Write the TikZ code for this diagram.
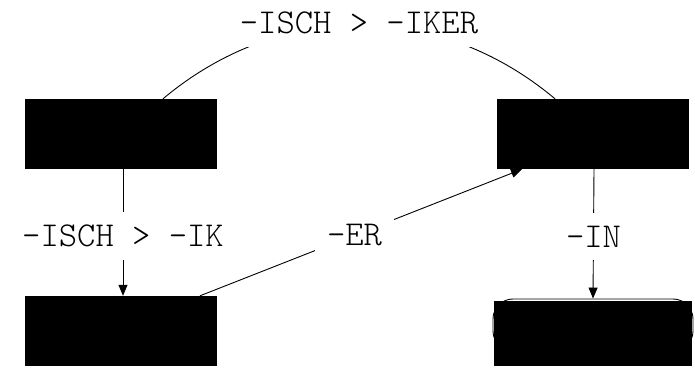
\documentclass[tikz,border=0pt]{standalone}
\usepackage{fontspec}
\setmonofont{Latin Modern Mono Light}
\usetikzlibrary{arrows.meta}
\begin{document}
\begin{tikzpicture}[x=1pt,y=1pt,
  box/.style={fill=black, draw=none, minimum width=192pt, minimum height=70pt, inner sep=0pt},
  edge/.style={line width=0.9pt, draw=black},
  arr/.style={edge, -{Triangle[length=11pt,width=9pt]}},
  lbl/.style={fill=white, inner xsep=12pt, inner ysep=13pt,
    font=\ttfamily\fontsize{34.9pt}{40pt}\selectfont}]
  \useasboundingbox (0,0) rectangle (695,369);

  % the four boxes
  \node[box] (tl) at (121,235) {};
  \node[box] (tr) at (593,235) {};
  \node[box] (bl) at (121,38) {};
  \node[draw, line width=0.9pt, rounded corners=20pt, minimum width=200pt,
        minimum height=52pt, inner sep=0pt] (br) at (593,44) {};
  \node[fill=black, minimum width=198pt, minimum height=65pt, inner sep=0pt]
        (brfill) at (593,35.5) {};

  % arched link across the top
  \draw[edge] ([xshift=42pt]tl.north) to[bend left=40]
    node[lbl, yshift=2pt] (ltop) {-ISCH > -IKER} ([xshift=-38pt]tr.north);

  % vertical arrows
  \draw[arr] ([xshift=2pt]tl.south) -- node[lbl, pos=0.53] (lleft) {-ISCH > -IK}
    ([xshift=2pt]bl.north);
  \draw[arr] ([xshift=1pt]tr.south) -- node[lbl, pos=0.52] (lright) {-IN}
    (br.north);

  % diagonal arrow
  \draw[arr] ([xshift=79pt]bl.north) -- node[lbl, pos=0.48] (lmid) {-ER}
    ([xshift=-71pt]tr.south);
\end{tikzpicture}
\end{document}
